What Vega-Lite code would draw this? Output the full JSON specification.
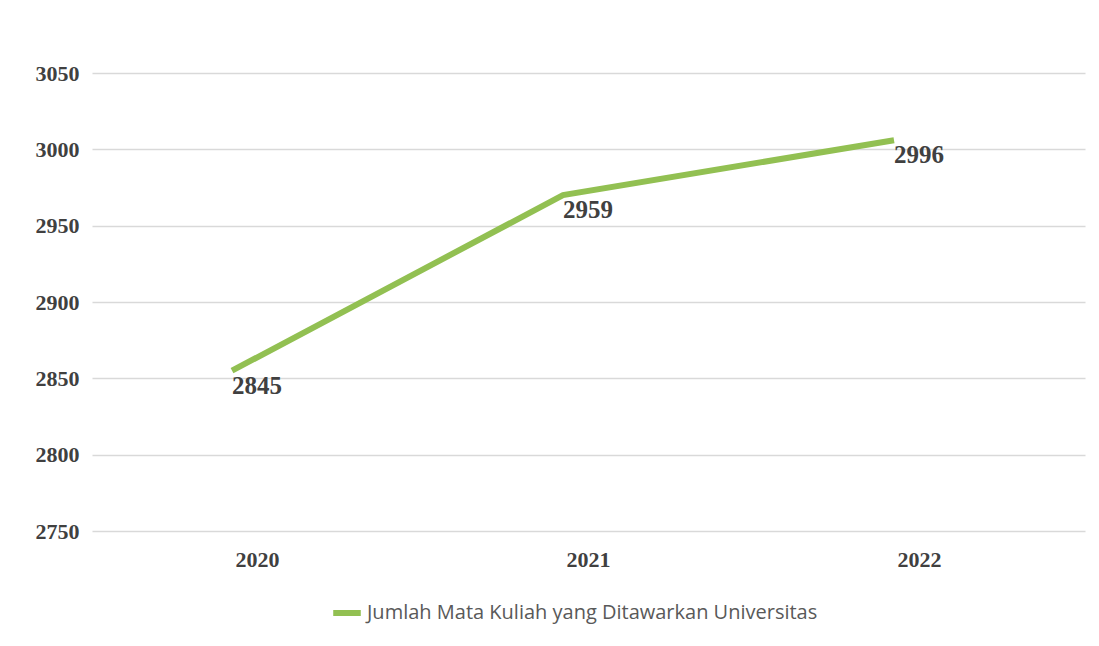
{
  "$schema": "https://vega.github.io/schema/vega-lite/v6.json",
  "width": 993,
  "height": 458,
  "autosize": {"type": "none"},
  "padding": {"left": 92, "top": 73, "right": 14, "bottom": 115},
  "background": "white",
  "config": {"view": {"stroke": null}},
  "data": {
    "values": [
      {"tahun": "2020", "nilai": 2855, "label": "2845", "seri": "Jumlah Mata Kuliah yang Ditawarkan Universitas"},
      {"tahun": "2021", "nilai": 2970, "label": "2959", "seri": "Jumlah Mata Kuliah yang Ditawarkan Universitas"},
      {"tahun": "2022", "nilai": 3006, "label": "2996", "seri": "Jumlah Mata Kuliah yang Ditawarkan Universitas"}
    ]
  },
  "encoding": {
    "x": {
      "field": "tahun",
      "type": "ordinal",
      "bandPosition": 0.423,
      "scale": {"type": "band", "paddingInner": 0, "paddingOuter": 0},
      "axis": {
        "title": null,
        "labelAngle": 0,
        "ticks": false,
        "domain": false,
        "labelPadding": 18,
        "labelFont": "Liberation Serif",
        "labelFontWeight": "bold",
        "labelFontSize": 22,
        "labelColor": "#404040"
      }
    },
    "y": {
      "field": "nilai",
      "type": "quantitative",
      "scale": {"domain": [2750, 3050], "zero": false, "nice": false},
      "axis": {
        "title": null,
        "format": "d",
        "values": [2750, 2800, 2850, 2900, 2950, 3000, 3050],
        "ticks": false,
        "domain": false,
        "grid": true,
        "gridColor": "#d9d9d9",
        "gridWidth": 1.5,
        "labelPadding": 13,
        "labelFont": "Liberation Serif",
        "labelFontWeight": "bold",
        "labelFontSize": 22,
        "labelColor": "#404040"
      }
    }
  },
  "layer": [
    {
      "mark": {"type": "line", "strokeWidth": 6, "strokeCap": "butt"},
      "encoding": {
        "color": {
          "field": "seri",
          "type": "nominal",
          "scale": {"range": ["#92c052"]},
          "legend": {
            "title": null,
            "orient": "none",
            "legendX": 238,
            "legendY": 523,
            "symbolType": "stroke",
            "symbolStrokeWidth": 6,
            "symbolSize": 760,
            "labelFont": "Open Sans",
            "labelFontSize": 20,
            "labelColor": "#595959",
            "labelOffset": 3,
            "labelLimit": 0
          }
        }
      }
    },
    {
      "mark": {
        "type": "text",
        "align": "left",
        "baseline": "top",
        "dy": 3,
        "font": "Liberation Serif",
        "fontWeight": "bold",
        "fontSize": 25,
        "color": "#404040"
      },
      "encoding": {"text": {"field": "label"}}
    }
  ]
}
